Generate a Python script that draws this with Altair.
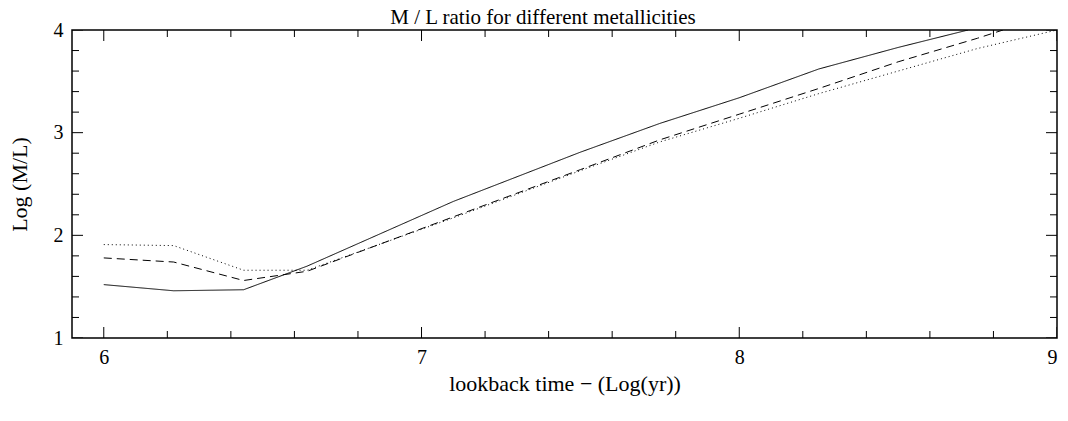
import altair as alt
import pandas as pd

# ---- data (each line ends where it leaves the top of the frame) ----
ages_solid = [6.0, 6.22, 6.44, 6.64, 7.1, 7.5, 7.75, 8.0, 8.25, 8.5, 8.72]
ml_solid = [1.52, 1.46, 1.47, 1.70, 2.33, 2.81, 3.09, 3.34, 3.62, 3.83, 4.0]
ages_dashed = [6.0, 6.22, 6.44, 6.64, 7.1, 7.5, 7.75, 8.0, 8.25, 8.5, 8.75, 8.83]
ml_dashed = [1.78, 1.74, 1.56, 1.65, 2.18, 2.64, 2.93, 3.18, 3.43, 3.69, 3.92, 4.0]
ages_dotted = [6.0, 6.22, 6.44, 6.64, 7.1, 7.5, 7.75, 8.0, 8.25, 8.5, 8.75, 9.0]
ml_dotted = [1.91, 1.90, 1.66, 1.66, 2.17, 2.63, 2.91, 3.14, 3.38, 3.60, 3.82, 4.0]
series_names = ["solid", "dashed", "dotted"]

x_major = [6, 7, 8, 9]
x_minor = [6.2, 6.4, 6.6, 6.8, 7.2, 7.4, 7.6, 7.8, 8.2, 8.4, 8.6, 8.8]
y_major = [1, 2, 3, 4]
y_minor = [1.2, 1.4, 1.6, 1.8, 2.2, 2.4, 2.6, 2.8, 3.2, 3.4, 3.6, 3.8]
title_text = ["M / L ratio for different metallicities"]

W, H = 985, 308
MAJ, MIN = 11, 7
FONT = "Liberation Serif"

rows = []
for name, xs, vals in zip(series_names, [ages_solid, ages_dashed, ages_dotted],
                          [ml_solid, ml_dashed, ml_dotted]):
    for a, v in zip(xs, vals):
        rows.append({"age": a, "ml": v, "series": name})
df = pd.DataFrame(rows)

xscale = alt.Scale(domain=[5.9, 9.0], nice=False, zero=False)
yscale = alt.Scale(domain=[1, 4], nice=False, zero=False)

xaxis = alt.Axis(values=x_major, format="d", domain=False, ticks=False, grid=False,
                 labelFont=FONT, labelFontSize=20, labelColor="black", labelPadding=9,
                 title="lookback time \u2212 (Log(yr))", titleFont=FONT, titleFontSize=22,
                 titleFontWeight="normal", titleColor="black", titlePadding=6)
yaxis = alt.Axis(values=y_major, format="d", domain=False, ticks=False, grid=False,
                 labelFont=FONT, labelFontSize=20, labelColor="black", labelPadding=9,
                 title="Log (M/L)", titleFont=FONT, titleFontSize=22,
                 titleFontWeight="normal", titleColor="black", titlePadding=22)

lines = alt.Chart(df).mark_line(clip=True, color="black", strokeWidth=1).encode(
    x=alt.X("age:Q", scale=xscale, axis=xaxis),
    y=alt.Y("ml:Q", scale=yscale, axis=yaxis),
    strokeDash=alt.StrokeDash("series:N", legend=None,
                              scale=alt.Scale(domain=series_names,
                                              range=[[1, 0], [8, 5], [1, 3]])),
    detail="series:N",
)

dxmaj = pd.DataFrame({"v": x_major})
dxmin = pd.DataFrame({"v": x_minor})
dymaj = pd.DataFrame({"v": y_major})
dymin = pd.DataFrame({"v": y_minor})

def xticks(d, L):
    base = alt.Chart(d).mark_rule(color="black", strokeWidth=1, clip=True)
    bot = base.encode(x=alt.X("v:Q", scale=xscale), y=alt.value(H), y2=alt.value(H - L))
    top = base.encode(x=alt.X("v:Q", scale=xscale), y=alt.value(0), y2=alt.value(L))
    return [bot, top]

def yticks(d, L):
    base = alt.Chart(d).mark_rule(color="black", strokeWidth=1, clip=True)
    left = base.encode(y=alt.Y("v:Q", scale=yscale), x=alt.value(0), x2=alt.value(L))
    right = base.encode(y=alt.Y("v:Q", scale=yscale), x=alt.value(W), x2=alt.value(W - L))
    return [left, right]

title_mark = alt.Chart(pd.DataFrame({"t": title_text})).mark_text(
    font=FONT, fontSize=21, color="black", align="center", baseline="alphabetic"
).encode(text="t:N", x=alt.value(471), y=alt.value(-6))

layers = ([lines] + xticks(dxmaj, MAJ) + xticks(dxmin, MIN) + yticks(dymaj, MAJ)
          + yticks(dymin, MIN) + [title_mark])

chart = alt.layer(*layers).properties(
    width=W, height=H,
    background="white",
    autosize=alt.AutoSizeParams(type="none"),
    padding={"left": 64, "top": 22, "right": 2, "bottom": 75},
).configure_view(stroke="black", strokeWidth=1.5, strokeOpacity=1)

chart.save("out.html", embed_options={"renderer": "svg", "actions": False})
